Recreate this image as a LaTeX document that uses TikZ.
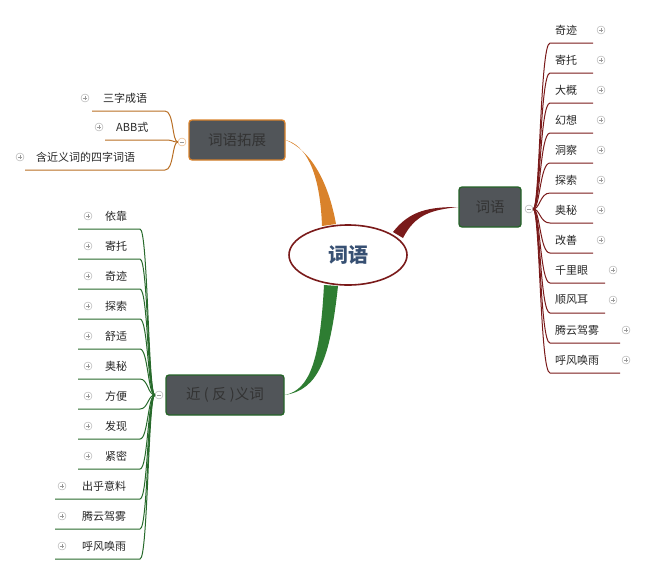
\documentclass[tikz,border=0pt]{standalone}
\usepackage{fontspec}
\usetikzlibrary{shapes.geometric}
\newfontfamily\cjk{Noto Sans CJK SC}
\begin{document}
\begin{tikzpicture}[x=1pt,y=-1pt,
  leaf/.style={font=\cjk\fontsize{11}{13}\selectfont,inner sep=1pt,text=black!85},
  plusc/.style={circle,draw=gray!70,inner sep=0pt,minimum size=8pt,
    path picture={\draw[gray!80,line width=0.5pt]
      ([xshift=-2.2pt]path picture bounding box.center)--([xshift=2.2pt]path picture bounding box.center)
      ([yshift=-2.2pt]path picture bounding box.center)--([yshift=2.2pt]path picture bounding box.center);}},
  minusc/.style={circle,draw=gray!70,fill=white,inner sep=0pt,minimum size=8pt,
    path picture={\draw[gray!80,line width=0.5pt]
      ([xshift=-2.2pt]path picture bounding box.center)--([xshift=2.2pt]path picture bounding box.center);}},
  topic/.style={draw,line width=1.3pt,rounded corners=3pt,fill={rgb:red,221;green,232;blue,243},
    font=\cjk\fontsize{14.5}{16}\selectfont,text=black!80,inner sep=0pt},
]
\useasboundingbox (0,0) rectangle (647,576);
\definecolor{org}{HTML}{D9822B}
\definecolor{dred}{HTML}{7A1A1A}
\definecolor{grn}{HTML}{2E7D32}
\definecolor{ctext}{HTML}{375073}
% center
\node[draw=dred,line width=1.6pt,ellipse,minimum width=118pt,minimum height=60pt,fill=white,
  font=\cjk\bfseries\fontsize{20}{22}\selectfont,text=ctext] (c) at (348,255) {词语};
% topics
\node[topic,draw=org,minimum width=96pt,minimum height=40pt] (t1) at (237,140) {词语拓展};
\node[topic,draw=grn!80!black,minimum width=62pt,minimum height=40pt] (t2) at (490,207) {词语};
\node[topic,draw=grn!80!black,minimum width=118pt,minimum height=40pt] (t3) at (225,395) {近 ( 反 )义词};
% main connectors (tapered)
\fill[org] (322,226) .. controls (320,170) and (305,145) .. (t1.east) .. controls (310,150) and (328,180) .. (336,224) -- cycle;
\fill[dred] (393,232) .. controls (410,210) and (430,207) .. (t2.west) .. controls (430,210) and (415,215) .. (403,238) -- cycle;
\fill[grn] (324,285) .. controls (320,360) and (310,390) .. (t3.east) .. controls (318,390) and (330,360) .. (338,286) -- cycle;
% hubs
\node[minusc,draw=org!70] (h1) at (182,142) {};
\node[minusc] (h2) at (529,209) {};
\node[minusc] (h3) at (159,395) {};
% left top leaves
\foreach \t/\y/\xs/\xp/\nm in {三字成语/98/92/85/a1,ABB式/127/105/99/a2,含近义词的四字词语/157/25/20/a3}{
  \coordinate (\nm e) at (\xs,\y+13);
  \node[leaf,anchor=west] (\nm) at (\xs+10,\y) {\t};
  \node[plusc] (\nm p) at (\xp,\y) {};
  \draw[org!85!black,line width=1pt] (h1.west) .. controls (172,142) and (174,\y+13) .. (165,\y+13) -- (\nm e);
}
% right leaves
\foreach \t/\i/\xe/\xp/\nm in {奇迹/0/593/601/b1,寄托/1/593/601/b2,大概/2/593/601/b3,幻想/3/593/601/b4,洞察/4/593/601/b5,探索/5/593/601/b6,奥秘/6/593/601/b7,改善/7/593/601/b8,千里眼/8/605/613/b9,顺风耳/9/605/613/b10,腾云驾雾/10/620/626/b11,呼风唤雨/11/620/626/b12}{
  \pgfmathsetmacro{\yy}{30+30*\i}
  \node[leaf,anchor=west] (\nm) at (554,\yy) {\t};
  \node[plusc] (\nm p) at (\xp,\yy) {};
  \coordinate (\nm e) at (\xe,\yy+13);
  \draw[dred,line width=1pt] (h2.east) .. controls (540,209) and (540,\yy+13) .. (550,\yy+13) -- (\nm e);
}
% left bottom leaves
\foreach \t/\i/\xs/\xp/\nm in {依靠/0/78/88/g1,寄托/1/78/88/g2,奇迹/2/78/88/g3,探索/3/78/88/g4,舒适/4/78/88/g5,奥秘/5/78/88/g6,方便/6/78/88/g7,发现/7/78/88/g8,紧密/8/78/88/g9,出乎意料/9/55/62/g10,腾云驾雾/10/55/62/g11,呼风唤雨/11/55/62/g12}{
  \pgfmathsetmacro{\yy}{216+30*\i}
  \node[leaf,anchor=west] (\nm) at (\xs+26,\yy) {\t};
  \node[plusc] (\nm p) at (\xp,\yy) {};
  \coordinate (\nm e) at (\xs,\yy+13);
  \draw[grn!85!black,line width=1pt] (h3.west) .. controls (148,395) and (148,\yy+13) .. (140,\yy+13) -- (\nm e);
}
\end{tikzpicture}
\end{document}
